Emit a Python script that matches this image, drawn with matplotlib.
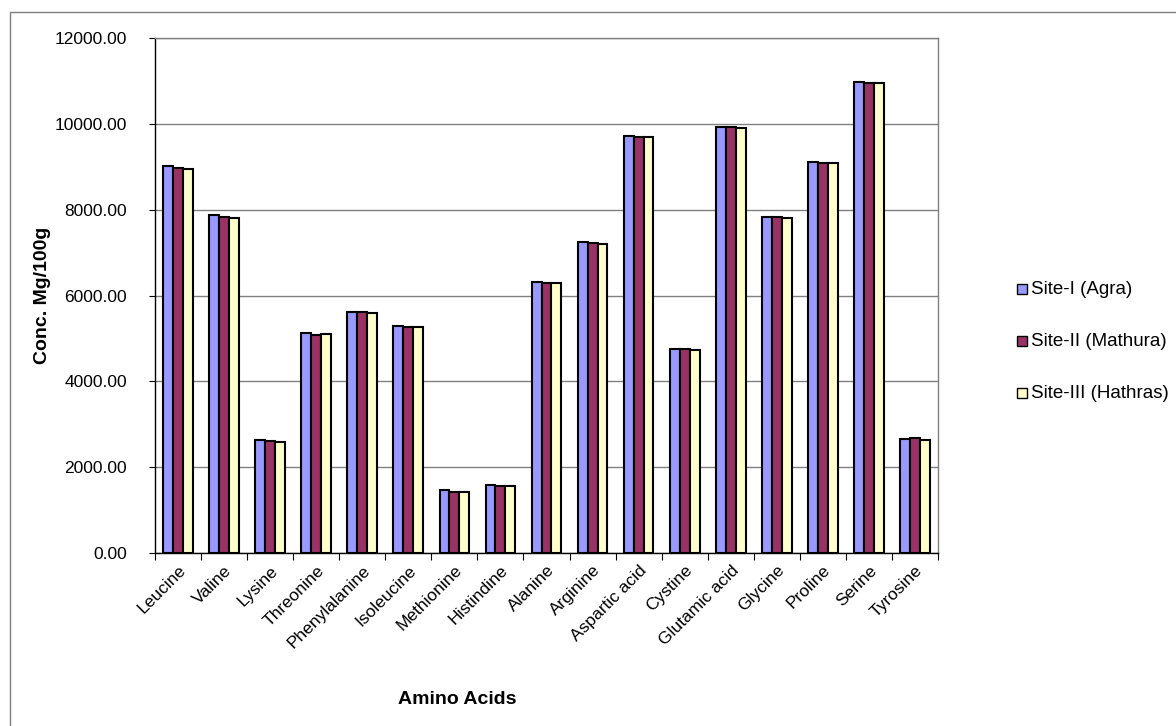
import matplotlib
matplotlib.use("Agg")
import matplotlib.pyplot as plt
import numpy as np
from matplotlib.patches import Rectangle

plt.rcParams['font.family'] = ['Liberation Sans', 'DejaVu Sans']

amino_acids = ["Leucine", "Valine", "Lysine", "Threonine", "Phenylalanine",
               "Isoleucine", "Methionine", "Histindine", "Alanine", "Arginine",
               "Aspartic acid", "Cystine", "Glutamic acid", "Glycine", "Proline",
               "Serine", "Tyrosine"]

site_agra = [9025, 7880, 2635, 5115, 5615, 5285, 1465, 1580, 6325, 7245,
             9725, 4758, 9922, 7828, 9120, 10984, 2650]
site_mathura = [8975, 7836, 2605, 5090, 5615, 5265, 1425, 1555, 6290, 7225,
                9696, 4758, 9915, 7828, 9097, 10955, 2672]
site_hathras = [8950, 7813, 2582, 5095, 5600, 5257, 1425, 1553, 6290, 7200,
                9694, 4735, 9892, 7813, 9097, 10955, 2635]

series_labels = ["Site-I (Agra)", "Site-II (Mathura)", "Site-III (Hathras)"]
series_colors = ["#9999FF", "#993366", "#FFFFCC"]
y_ticks = [0, 2000, 4000, 6000, 8000, 10000, 12000]

W, H = 1176, 726
fig = plt.figure(figsize=(W / 100, H / 100), dpi=100)

# outer chart frame (runs off the right and bottom edges)
fig.patches.append(Rectangle((10 / W, 1 - 740 / H), 1200 / W, 728 / H,
                             transform=fig.transFigure, fill=False,
                             edgecolor="#7f7f7f", linewidth=1.0))

ax = fig.add_axes([155 / W, 1 - 553 / H, (938 - 155) / W, (553 - 38) / H])

x = np.arange(len(amino_acids))
bw = 0.215
for i, (vals, col) in enumerate(zip([site_agra, site_mathura, site_hathras], series_colors)):
    ax.bar(x + (i - 1) * bw, vals, width=bw, color=col, edgecolor="black",
           linewidth=1.5, zorder=3)

ax.set_xlim(-0.5, len(amino_acids) - 0.5)
ax.set_ylim(0, 12000)
ax.set_yticks(y_ticks)
ax.set_yticklabels([f"{v:.2f}" for v in y_ticks], fontsize=12.5)
ax.yaxis.grid(True, color="#808080", linewidth=1.0, zorder=0)

# category ticks sit on the boundaries between groups
ax.set_xticks(np.arange(len(amino_acids) + 1) - 0.5, minor=False)
ax.set_xticklabels([])
ax.set_xticks(x, minor=True)
ax.set_xticklabels(amino_acids, minor=True, rotation=45, ha="right",
                   rotation_mode="anchor", fontsize=12.5)
ax.tick_params(axis="x", which="minor", length=0, pad=7)
ax.tick_params(axis="x", which="major", length=5, color="black", direction="out")
ax.tick_params(axis="y", length=4, color="black", direction="out", pad=16)

for side in ["top", "right"]:
    ax.spines[side].set_color("#808080")
    ax.spines[side].set_linewidth(1.0)
for side in ["left", "bottom"]:
    ax.spines[side].set_color("black")
    ax.spines[side].set_linewidth(1.0)

ax.set_ylabel("Conc. Mg/100g", fontsize=14, fontweight="bold", labelpad=3)
fig.text(457 / W, 1 - 700 / H, "Amino Acids", fontsize=14, fontweight="bold",
         ha="center", va="center")

# legend drawn as marker + text rows
for k, (lab, col) in enumerate(zip(series_labels, series_colors)):
    yc = 289 + 52 * k
    fig.patches.append(Rectangle((1017 / W, 1 - (yc + 5) / H), 10 / W, 10 / H,
                                 transform=fig.transFigure, facecolor=col,
                                 edgecolor="black", linewidth=1.0))
    fig.text(1031 / W, 1 - yc / H, lab, fontsize=13.5, ha="left", va="center")

fig.savefig("out.png", dpi=100)
